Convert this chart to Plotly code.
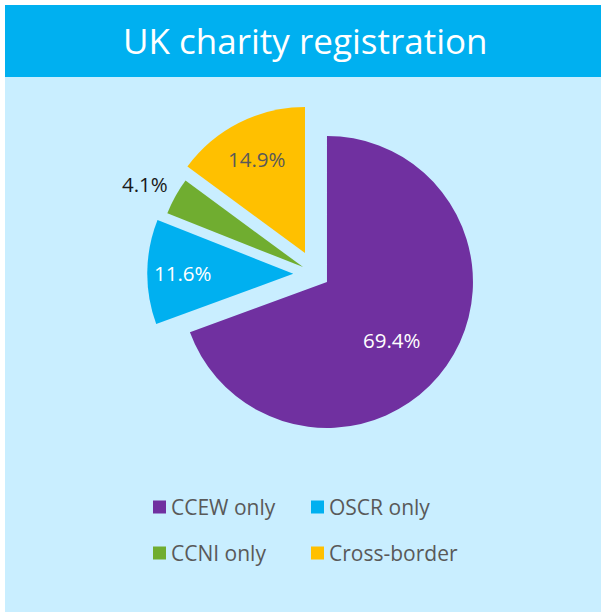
import plotly.graph_objects as go

W, H = 601, 612

# ---- data ----
categories = ["CCEW only", "OSCR only", "CCNI only", "Cross-border"]
values = [69.4, 11.6, 4.1, 14.9]

# ---- styling ----
colors = ["#7030A0", "#00B0F0", "#70AD30", "#FFC000"]
pulls = [0.095, 0.153, 0.098, 0.161]
label_colors = ["#FFFFFF", "#FFFFFF", "#1A1A1A", "#595959"]
label_px = [(392, 340), (183, 273), (145, 184), (257, 159)]
legend_px = [(153, 507), (311, 507), (153, 553), (311, 553)]

FONT = "Open Sans"

def px(x):
    return x / W

def py(y):
    return 1 - y / H

cx, cy, r = 315.6, 274.0, 146.0
half = r * (1 + max(pulls))

fig = go.Figure()
fig.add_trace(go.Pie(
    labels=categories,
    values=values,
    sort=False,
    direction="clockwise",
    rotation=0,
    pull=pulls,
    marker=dict(colors=colors, line=dict(width=0)),
    textinfo="none",
    hoverinfo="label+percent",
    showlegend=False,
    domain=dict(x=[px(cx - half), px(cx + half)], y=[py(cy + half), py(cy - half)]),
))

shapes = [
    dict(type="rect", xref="paper", yref="paper", x0=px(5), x1=1, y0=0, y1=py(5),
         fillcolor="#C9EEFF", line=dict(width=0), layer="below"),
    dict(type="rect", xref="paper", yref="paper", x0=px(5), x1=1, y0=py(77), y1=py(5),
         fillcolor="#00B0F0", line=dict(width=0), layer="below"),
]
annotations = [
    dict(text="UK charity registration", x=px(305), y=py(41), xref="paper", yref="paper",
         xanchor="center", yanchor="middle", showarrow=False,
         font=dict(family=FONT, size=35, color="#FFFFFF")),
]

for v, c, (lx, ly) in zip(values, label_colors, label_px):
    annotations.append(dict(text=f"{v}%", x=px(lx), y=py(ly), xref="paper", yref="paper",
                            xanchor="center", yanchor="middle", showarrow=False,
                            font=dict(family=FONT, size=20.5, color=c)))

for name, col, (sx, sy) in zip(categories, colors, legend_px):
    shapes.append(dict(type="rect", xref="paper", yref="paper",
                       x0=px(sx), x1=px(sx + 13), y0=py(sy + 6.5), y1=py(sy - 6.5),
                       fillcolor=col, line=dict(width=0)))
    annotations.append(dict(text=name, x=px(sx + 16), y=py(sy), xref="paper", yref="paper",
                            xanchor="left", yanchor="middle", showarrow=False,
                            font=dict(family=FONT, size=21, color="#595959")))

fig.update_layout(
    width=W, height=H,
    margin=dict(l=0, r=0, t=0, b=0),
    paper_bgcolor="#FFFFFF",
    plot_bgcolor="#FFFFFF",
    shapes=shapes,
    annotations=annotations,
    showlegend=False,
)

fig.write_html("out.html",
               config={"displayModeBar": False},
               post_script="document.body.style.margin='0';document.body.style.padding='0';")
